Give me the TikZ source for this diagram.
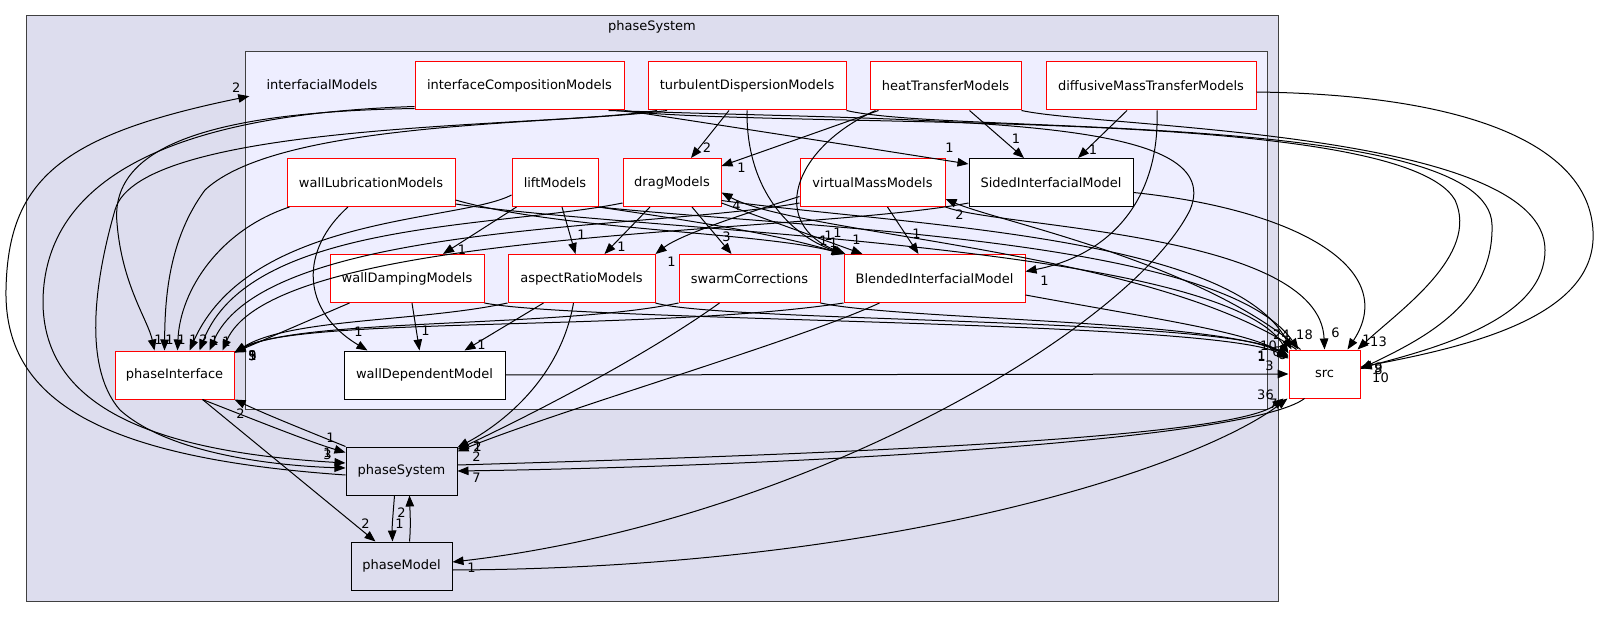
\documentclass[tikz,border=0pt]{standalone}
\usepackage{fontspec}
\setmainfont{DejaVu Sans}
\usetikzlibrary{arrows.meta}

\definecolor{outerbg}{HTML}{DDDDEE}
\definecolor{innerbg}{HTML}{EEEEFF}

\tikzset{
    dirbox/.style={draw=red, fill=white, line width=1pt, minimum height=48pt, inner sep=2pt},
    leafbox/.style={dirbox, draw=black},
    cluster/.style={draw=black!75, line width=1pt},
    dep/.style={-{Triangle[length=11pt,width=8.5pt]}, line width=1pt},
    cnt/.style={pos=1, inner sep=0pt}
}

\begin{document}
\begin{tikzpicture}[x=1pt, y=-1pt, font=\fontsize{13}{15.6}\selectfont]
        \useasboundingbox (0,0) rectangle (1600,617);

        %% clusters
        \draw[cluster, fill=outerbg] (26,16) rectangle (1278,601);
        \node (pstitle) at (652,27) {phaseSystem};
        \draw[cluster, fill=innerbg] (245,52) rectangle (1267,409);
        \node[inner xsep=17pt, inner ysep=6pt] (im) at (322,85) {interfacialModels};

        \node[dirbox, minimum width=209pt] (icm) at (519.5,86) {interfaceCompositionModels};
        \node[dirbox, minimum width=198pt] (tdm) at (747,86) {turbulentDispersionModels};
        \node[dirbox, minimum width=151pt] (htm) at (945.5,86) {heatTransferModels};
        \node[dirbox, minimum width=210pt] (dmtm) at (1151,86) {diffusiveMassTransferModels};
        \node[dirbox, minimum width=168pt] (wlm) at (371,182.5) {wallLubricationModels};
        \node[dirbox, minimum width=86pt] (lift) at (555,182.5) {liftModels};
        \node[dirbox, minimum width=98pt] (drag) at (672,182.5) {dragModels};
        \node[dirbox, minimum width=145pt] (vmm) at (872.5,182.5) {virtualMassModels};
        \node[leafbox, minimum width=164pt] (sided) at (1051,182.5) {SidedInterfacialModel};
        \node[dirbox, minimum width=154pt] (wdamp) at (407,278.5) {wallDampingModels};
        \node[dirbox, minimum width=147pt] (aspect) at (581.5,278.5) {aspectRatioModels};
        \node[dirbox, minimum width=141pt] (swarm) at (749.5,278.5) {swarmCorrections};
        \node[dirbox, minimum width=181pt] (blended) at (934.5,278.5) {BlendedInterfacialModel};
        \node[dirbox, minimum width=119pt] (pi) at (174.5,375) {phaseInterface};
        \node[leafbox, minimum width=161pt] (wdep) at (424.5,375) {wallDependentModel};
        \node[dirbox, minimum width=71pt] (src) at (1324.5,374) {src};
        \node[leafbox, fill=outerbg, minimum width=111pt] (psys) at (401.5,471) {phaseSystem};
        \node[leafbox, fill=outerbg, minimum width=101pt] (pmod) at (401.5,566) {phaseModel};

        %% inside interfacialModels
        \draw[dep] ([xshift=-18pt]tdm.south) -- ([xshift=19pt]drag.north) node[cnt, xshift=16pt, yshift=10pt] {2};
        \draw[dep] ([xshift=9pt]htm.south west) -- ([yshift=-8pt]drag.north east) node[cnt, xshift=20pt, yshift=-2pt] {1};
        \draw[dep] ([xshift=24pt]htm.south) -- ([xshift=-27pt]sided.north) node[cnt, xshift=-8pt, yshift=19pt] {1};
        \draw[dep] ([xshift=-24pt]dmtm.south) -- ([xshift=27pt]sided.north) node[cnt, xshift=15pt, yshift=8pt] {1};
        \draw[dep] (icm.south east) .. controls (720,125) and (880,150) .. ([yshift=-6pt]sided.north west) node[cnt, xshift=-19pt, yshift=16pt] {1};
        \draw[dep] (tdm.south) .. controls (746,190) and (790,235) .. (blended.north west) node[cnt, xshift=-20pt, yshift=13pt] {1};
        \draw[dep] ([xshift=6pt]htm.south west) .. controls (790,150) and (770,225) .. ([xshift=2pt]blended.north west) node[cnt, xshift=-8pt, yshift=21pt] {1};
        \draw[dep] ([xshift=6pt]dmtm.south) .. controls (1160,200) and (1110,255) .. ([yshift=7pt]blended.east) node[cnt, xshift=19pt, yshift=-9pt] {1};
        \draw[dep] ([xshift=-22pt]drag.south) -- ([xshift=23pt]aspect.north) node[cnt, xshift=17pt, yshift=7pt] {1};
        \draw[dep] ([xshift=20pt]drag.south) -- ([xshift=-18pt]swarm.north) node[cnt, xshift=-5pt, yshift=17pt] {3};
        \draw[dep] ([yshift=4pt]drag.south east) -- ([xshift=19pt]blended.north west) node[cnt, xshift=-6pt, yshift=14pt] {1};
        \draw[dep] ([xshift=5pt]lift.south west) -- ([xshift=36pt]wdamp.north) node[cnt, xshift=19pt, yshift=4pt] {1};
        \draw[dep] ([xshift=7pt]lift.south) -- ([xshift=-6pt]aspect.north) node[cnt, xshift=6pt, yshift=19pt] {1};
        \draw[dep] (lift.south east) .. controls (700,222) and (780,235) .. ([xshift=-1pt]blended.north west) node[cnt, xshift=-14pt, yshift=18pt] {1};
        \draw[dep] ([yshift=7pt]wlm.south east) .. controls (560,230) and (760,232) .. (blended.north west) node[cnt, xshift=-10pt, yshift=11pt] {1};
        \draw[dep] ([xshift=-23pt]wlm.south) .. controls (300,250) and (300,310) .. ([xshift=-57pt]wdep.north) node[cnt, xshift=-9pt, yshift=19pt] {1};
        \draw[dep] ([xshift=5pt]wdamp.south) -- ([xshift=-5pt]wdep.north) node[cnt, xshift=6pt, yshift=20pt] {1};
        \draw[dep] ([xshift=-38pt]aspect.south) -- ([xshift=40pt]wdep.north) node[cnt, xshift=17pt, yshift=6pt] {1};
        \draw[dep] ([yshift=-14pt]vmm.west) .. controls (740,215) and (680,235) .. (aspect.north east) node[cnt, xshift=16pt, yshift=-8pt] {1};
        \draw[dep] ([xshift=15pt]vmm.south) -- ([xshift=-16pt]blended.north) node[cnt, xshift=-2pt, yshift=20pt] {1};

        %% into phaseInterface
        \draw[dep] ([yshift=2pt]icm.south west) .. controls (200,112) and (110,150) .. (117,223) .. controls (122,285) and (148,320) .. ([xshift=-20pt]pi.north) node[cnt, xshift=4pt, yshift=11pt] {1};
        \draw[dep] ([xshift=-80pt]tdm.south) .. controls (560,125) and (280,120) .. (205,190) .. controls (168,240) and (165,300) .. ([xshift=-10pt]pi.north) node[cnt, xshift=5pt, yshift=11pt] {1};
        \draw[dep] ([xshift=3pt]wlm.south west) .. controls (220,230) and (180,290) .. ([xshift=3pt]pi.north) node[cnt, xshift=4pt, yshift=11pt] {1};
        \draw[dep] ([yshift=12pt]lift.south west) .. controls (460,222) and (250,215) .. ([xshift=15pt]pi.north) node[cnt, xshift=4pt, yshift=11pt] {1};
        \draw[dep] ([yshift=4pt]drag.south west) .. controls (500,228) and (250,220) .. ([xshift=25pt]pi.north) node[cnt, xshift=4pt, yshift=11pt] {2};
        \draw[dep] ([yshift=4pt]vmm.south west) .. controls (650,230) and (265,222) .. ([xshift=35pt]pi.north) node[cnt, xshift=5pt, yshift=10pt] {1};
        \draw[dep] ([yshift=4pt]sided.south west) .. controls (800,235) and (275,228) .. ([xshift=-12pt]pi.north east) node[cnt, xshift=4pt, yshift=9pt] {1};
        \draw[dep] ([xshift=20pt]wdamp.south west) -- ([yshift=-2pt]pi.north east) node[cnt, xshift=18pt, yshift=-3pt] {5};
        \draw[dep] (aspect.south west) .. controls (420,322) and (290,318) .. ([yshift=-2pt]pi.north east) node[cnt, xshift=18pt, yshift=-3pt] {3};
        \draw[dep] (swarm.south west) .. controls (560,328) and (300,318) .. ([yshift=-2pt]pi.north east) node[cnt, xshift=18pt, yshift=-3pt] {9};
        \draw[dep] (blended.south west) .. controls (650,332) and (300,316) .. ([yshift=-2pt]pi.north east) node[cnt, xshift=18pt, yshift=-3pt] {1};

        %% phaseSystem and phaseModel
        \draw[dep] ([xshift=28pt]pi.south) .. controls (255,420) and (310,442) .. ([yshift=-6pt]psys.north west) node[cnt, xshift=-15pt, yshift=15pt] {1};
        \draw[dep] (psys.north west) .. controls (300,428) and (265,414) .. (pi.south east) node[cnt, xshift=6pt, yshift=-14pt] {2};
        \draw[dep] ([xshift=28pt]pi.south) -- ([xshift=-26pt]pmod.north) node[cnt, xshift=-10pt, yshift=18pt] {2};
        \draw[dep] ([xshift=-7pt]psys.south) .. controls (393,515) and (392,525) .. ([xshift=-9pt]pmod.north) node[cnt, xshift=7pt, yshift=18pt] {1};
        \draw[dep] ([xshift=8pt]pmod.north) .. controls (411,525) and (410,512) .. ([xshift=8pt]psys.south) node[cnt, xshift=-8pt, yshift=-17pt] {2};
        \draw[dep] ([xshift=-8pt]aspect.south) .. controls (560,380) and (500,425) .. ([yshift=-1pt]psys.north east) node[cnt, xshift=20pt, yshift=1pt] {1};
        \draw[dep] ([xshift=-30pt]swarm.south) .. controls (640,360) and (520,420) .. ([yshift=-3pt]psys.north east) node[cnt, xshift=20pt, yshift=3pt] {2};
        \draw[dep] ([xshift=-55pt]blended.south) .. controls (800,340) and (560,410) .. ([yshift=-5pt]psys.north east) node[cnt, xshift=19pt, yshift=-5pt] {2};
        \draw[dep] ([yshift=4pt]icm.south west) .. controls (150,115) and (45,190) .. (43,300) .. controls (42,410) and (160,452) .. ([yshift=8pt]psys.west) node[cnt, xshift=-18pt, yshift=10pt] {1};
        \draw[dep] ([xshift=-90pt]tdm.south) .. controls (550,128) and (140,120) .. (115,210) .. controls (92,290) and (85,370) .. (120,410) .. controls (170,455) and (280,466) .. ([yshift=3pt]psys.west) node[cnt, xshift=-18pt, yshift=13pt] {3};
        \draw[dep] ([yshift=-4pt]psys.west) .. controls (100,458) and (4,400) .. (6,290) .. controls (8,180) and (60,135) .. (im.south west) node[cnt, xshift=-13pt, yshift=9pt] {2};
        \draw[dep] ([xshift=-16pt]icm.south east) .. controls (950,122) and (1230,115) .. (1190,210) .. controls (1130,330) and (800,522) .. ([yshift=4pt]pmod.east) node[cnt, xshift=19pt, yshift=-6pt] {1};

        %% src
        \draw[dep] ([xshift=-20pt]src.south) .. controls (1250,440) and (800,466) .. (psys.east) node[cnt, xshift=19pt, yshift=-7pt] {7};
        \draw[dep] ([yshift=6pt]psys.east) .. controls (800,455) and (1230,440) .. ([xshift=-5pt]src.south west) node[cnt, xshift=-18pt, yshift=4pt] {36};
        \draw[dep] ([yshift=-4pt]pmod.east) .. controls (900,568) and (1200,465) .. ([xshift=-1pt]src.south west) node[cnt, xshift=-14pt, yshift=-5pt] {7};
        \draw[dep] (wdep.east) -- (src.west) node[cnt, xshift=-19pt, yshift=8pt] {3};
        \draw[dep] ([yshift=-6pt]dmtm.east) .. controls (1480,95) and (1597,150) .. (1593,240) .. controls (1589,320) and (1460,348) .. ([yshift=7pt]src.east) node[cnt, xshift=20pt, yshift=-11pt] {10};
        \draw[dep] (htm.south east) .. controls (1100,128) and (1545,130) .. (1545,250) .. controls (1545,315) and (1450,345) .. ([yshift=6pt]src.east) node[cnt, xshift=18pt, yshift=0pt] {9};
        \draw[dep] (tdm.south east) .. controls (950,135) and (1490,110) .. (1492,225) .. controls (1494,305) and (1420,340) .. ([yshift=5pt]src.east) node[cnt, xshift=18pt, yshift=-1pt] {8};
        \draw[dep] ([xshift=-8pt]icm.south east) .. controls (800,130) and (1400,105) .. (1455,200) .. controls (1480,255) and (1400,310) .. ([xshift=-3pt]src.north east) node[cnt, xshift=21pt, yshift=8pt] {13};
        \draw[dep] ([yshift=-10pt]sided.east) .. controls (1300,210) and (1400,270) .. ([xshift=23pt]src.north) node[cnt, xshift=19pt, yshift=10pt] {1};
        \draw[dep] (vmm.south east) .. controls (1000,228) and (1320,232) .. (src.north) node[cnt, xshift=11pt, yshift=17pt] {6};
        \draw[dep] ([xshift=12pt]src.north west) .. controls (1200,262) and (1000,222) .. ([yshift=8pt]vmm.south east) node[cnt, xshift=14pt, yshift=-16pt] {2};
        \draw[dep] ([yshift=-18pt]drag.east) .. controls (900,225) and (1230,235) .. ([xshift=3pt]src.north west) node[cnt, xshift=-10pt, yshift=15pt] {24};
        \draw[dep] ([xshift=8pt]src.north west) .. controls (1150,250) and (800,235) .. ([yshift=-10pt]drag.east) node[cnt, xshift=15pt, yshift=-13pt] {4};
        \draw[dep] (lift.south east) .. controls (800,228) and (1220,238) .. ([xshift=10pt]src.north west) node[cnt, xshift=6pt, yshift=15pt] {18};
        \draw[dep] ([yshift=3pt]wlm.south east) .. controls (650,232) and (1220,245) .. ([yshift=-4pt]src.north west) node[cnt, xshift=-20pt, yshift=8pt] {10};
        \draw[dep] (aspect.south east) .. controls (720,322) and (1220,318) .. ([yshift=-6pt]src.north west) node[cnt, xshift=-12pt, yshift=4pt] {6};
        \draw[dep] (swarm.south east) .. controls (900,320) and (1220,320) .. ([yshift=-7pt]src.north west) node[cnt, xshift=-6pt, yshift=2pt] {8};
        \draw[dep] ([yshift=8pt]blended.south east) .. controls (1150,318) and (1250,332) .. ([yshift=-8pt]src.north west) node[cnt, xshift=-27pt, yshift=2pt] {1};
        \draw[dep] (wdamp.south east) .. controls (580,322) and (1220,320) .. ([yshift=-9pt]src.north west) node[cnt, xshift=-27pt, yshift=2pt] {1};
    \end{tikzpicture}
\end{document}
